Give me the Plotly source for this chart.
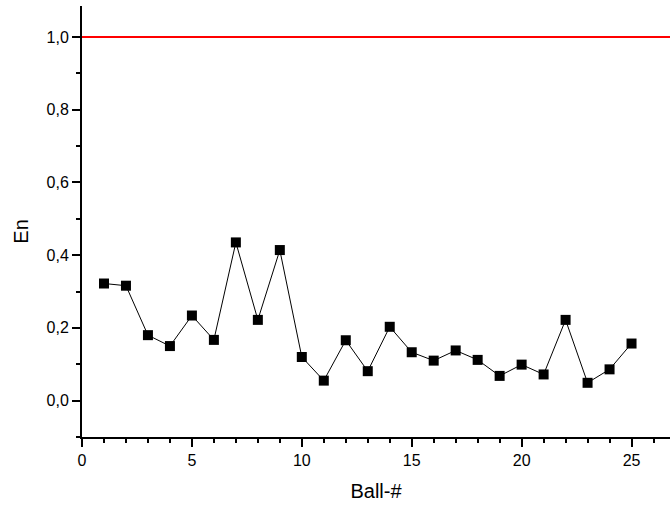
import plotly.graph_objects as go

ball = list(range(1, 26))
en = [0.322, 0.316, 0.180, 0.150, 0.234, 0.167, 0.435, 0.222, 0.414, 0.120,
      0.055, 0.166, 0.081, 0.203, 0.133, 0.110, 0.138, 0.112, 0.068, 0.099,
      0.072, 0.222, 0.049, 0.086, 0.157]
limit = 1.0

x_ticks = [0, 5, 10, 15, 20, 25]
x_ticklabels = ["0", "5", "10", "15", "20", "25"]
y_ticks = [0.0, 0.2, 0.4, 0.6, 0.8, 1.0]
y_ticklabels = ["0,0", "0,2", "0,4", "0,6", "0,8", "1,0"]

fig = go.Figure()
fig.add_trace(go.Scatter(
    x=ball, y=en, mode="lines+markers",
    line=dict(color="black", width=1),
    marker=dict(symbol="square", size=10, color="black"),
    showlegend=False,
))
fig.add_hline(y=limit, line=dict(color="#ff0000", width=2))

font = "Liberation Sans, Arial, sans-serif"
fig.update_layout(
    width=670, height=507,
    margin=dict(l=82, r=0, t=6, b=70),
    paper_bgcolor="white", plot_bgcolor="white",
    font=dict(family=font, color="black", size=16),
    showlegend=False,
)
fig.update_xaxes(
    range=[0, 26.75], showgrid=False, zeroline=False,
    showline=True, linecolor="black", linewidth=2,
    ticks="outside", ticklen=8, tickwidth=2, tickcolor="black",
    tickvals=x_ticks, ticktext=x_ticklabels, tickfont=dict(size=16),
    minor=dict(ticks="outside", ticklen=4, tickwidth=2, tickcolor="black", dtick=1, showgrid=False),
    title=dict(text="Ball-#", font=dict(size=20), standoff=16),
    automargin=False,
)
fig.update_yaxes(
    range=[-0.1, 1.085], showgrid=False, zeroline=False,
    showline=True, linecolor="black", linewidth=2,
    ticks="outside", ticklen=8, tickwidth=2, tickcolor="black",
    tickvals=y_ticks, ticktext=y_ticklabels, tickfont=dict(size=16),
    minor=dict(ticks="outside", ticklen=4, tickwidth=2, tickcolor="black", dtick=0.1, showgrid=False),
    automargin=False,
)
fig.add_annotation(
    text="En", textangle=-90, showarrow=False,
    xref="paper", yref="paper", x=-0.104, y=0.476,
    xanchor="center", yanchor="middle",
    font=dict(size=20, family=font, color="black"),
)

fig.write_html(
    "out.html",
    config={"displayModeBar": False},
    post_script="document.body.style.margin='0';document.body.style.overflow='hidden';",
)
